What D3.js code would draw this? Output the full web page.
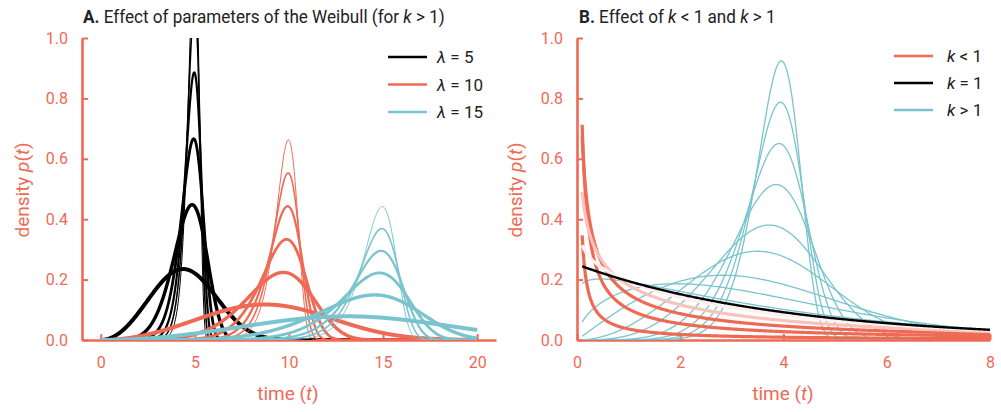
<!DOCTYPE html>
<html><head><meta charset="utf-8">
<script src="https://cdn.jsdelivr.net/npm/d3@7"></script>
<style>
body{margin:0;background:#fff;}
svg{display:block;font-family:Roboto,"Noto Sans",sans-serif;}
</style></head>
<body><svg id="c" width="1001" height="412"></svg>
<script>
// ---------- data (parameters) ----------
const lambdasA = [5, 10, 15];
const shapesA = [3, 6, 9, 12, 15, 18];
const lambdaB = 4;
const shapesBelow = [0.1, 0.3, 0.5, 0.7, 0.9];
const shapeOne = [1];
const shapesAbove = [1.1, 1.5, 2, 3, 4, 5.5, 7, 8.5, 10];
const xTicksA = [0, 5, 10, 15, 20];
const xTicksB = [0, 2, 4, 6, 8];
const yTicks = [0, 0.2, 0.4, 0.6, 0.8, 1.0];
const legendA = ["5", "10", "15"];
const legendB = ["<", "=", ">"];

// ---------- style ----------
const RED = "#EF6A55", TEAL = "#79C4CE", BLACK = "#000";
const lamColor = {5: BLACK, 10: RED, 15: TEAL};
const widthA = [4, 3.4, 2.8, 2.2, 1.6, 1.0];
const paleBelow = [0, 0, 0, 0.6, 0.9];

const weibull = (t, k, lam) => (k / lam) * Math.pow(t / lam, k - 1) * Math.exp(-Math.pow(t / lam, k));

const svg = d3.select("#c");
const y = d3.scaleLinear().domain([0, 1]).range([340, 38]);

function panel(x, xTicks, id) {
  const g = svg.append("g");
  const [x0, x1] = x.range();
  svg.append("clipPath").attr("id", id).append("rect")
    .attr("x", x0).attr("y", 38).attr("width", x1 - x0).attr("height", 302);
  const ya = g.append("g").attr("transform", `translate(${x0},0)`)
    .call(d3.axisLeft(y).tickValues(yTicks).tickFormat(d3.format(".1f")).tickSizeInner(-6).tickSizeOuter(0).tickPadding(14));
  const xa = g.append("g").attr("transform", `translate(0,340)`)
    .call(d3.axisBottom(x).tickValues(xTicks).tickFormat(d3.format("d")).tickSizeInner(-6).tickSizeOuter(0).tickPadding(17));
  [ya, xa].forEach(a => {
    a.select(".domain").attr("stroke", RED).attr("stroke-width", 2.6);
    a.selectAll(".tick line").attr("stroke", RED).attr("stroke-width", 2);
    a.selectAll(".tick text").attr("fill", RED).attr("font-size", 16).attr("font-family", "Roboto");
  });
  return g.append("g").attr("clip-path", `url(#${id})`);
}

// ---------- Panel A ----------
const xA = d3.scaleLinear().domain([-1, 21]).range([82, 496]);
const linesA = panel(xA, xTicksA, "clipA");
const tA = d3.range(0, 20.0001, 0.02);
lambdasA.forEach(lam => {
  shapesA.forEach((k, i) => {
    const line = d3.line().x(d => xA(d)).y(d => y(Math.min(weibull(d, k, lam), 1.2)));
    linesA.append("path").datum(tA).attr("d", line)
      .attr("fill", "none").attr("stroke", lamColor[lam]).attr("stroke-width", widthA[i])
      .attr("stroke-linejoin", "round");
  });
});

// ---------- Panel B ----------
const xB = d3.scaleLinear().domain([0, 8]).range([577, 990]);
const linesB = panel(xB, xTicksB, "clipB");
const tB = d3.range(0.1, 8.0001, 0.02);
const lineB = k => d3.line().x(d => xB(d)).y(d => y(Math.min(weibull(d, k, lambdaB), 1.2)));
shapesAbove.forEach(k => {
  linesB.append("path").datum(tB).attr("d", lineB(k))
    .attr("fill", "none").attr("stroke", TEAL).attr("stroke-width", 1.3);
});
shapesBelow.forEach((k, i) => {
  linesB.append("path").datum(tB).attr("d", lineB(k))
    .attr("fill", "none").attr("stroke", d3.interpolateRgb(RED, "#fff")(paleBelow[i])).attr("stroke-width", 3.2);
});
shapeOne.forEach(k => {
  linesB.append("path").datum(tB).attr("d", lineB(k))
    .attr("fill", "none").attr("stroke", BLACK).attr("stroke-width", 2.4);
});

// ---------- Titles ----------
function title(x, parts, sx) {
  const t = svg.append("text").attr("transform", `translate(${x},22.5) scale(${sx},1)`)
    .attr("font-size", 19).attr("fill", "#222");
  parts.forEach(p => t.append("tspan").text(p[0]).attr("font-weight", p[1] ? "bold" : null).attr("font-style", p[2] ? "italic" : null));
}
title(83, [["A.", 1], [" Effect of parameters of the Weibull (for "], ["k", 0, 1], [" > 1)"]], 0.9);
title(579, [["B.", 1], [" Effect of "], ["k", 0, 1], [" < 1 and "], ["k", 0, 1], [" > 1"]], 0.9);

// axis labels
function xlabel(cx) {
  const t = svg.append("text").attr("x", cx).attr("y", 400).attr("text-anchor", "middle").attr("font-size", 19).attr("fill", RED);
  t.append("tspan").text("time (");
  t.append("tspan").text("t").attr("font-style", "italic");
  t.append("tspan").text(")");
}
xlabel(288); xlabel(783);
function ylabel(bx) {
  const t = svg.append("text").attr("transform", `translate(${bx},190) rotate(-90)`).attr("text-anchor", "middle").attr("font-size", 19).attr("fill", RED);
  t.append("tspan").text("density ");
  t.append("tspan").text("p").attr("font-style", "italic");
  t.append("tspan").text("(");
  t.append("tspan").text("t").attr("font-style", "italic");
  t.append("tspan").text(")");
}
ylabel(29); ylabel(522);

// legends
const legColorsA = [BLACK, RED, TEAL];
legendA.forEach((v, i) => {
  const yy = 57 + i * 27.5;
  svg.append("line").attr("x1", 388).attr("x2", 427).attr("y1", yy).attr("y2", yy).attr("stroke", legColorsA[i]).attr("stroke-width", 2.6);
  const t = svg.append("text").attr("x", 437).attr("y", yy + 6).attr("font-size", 17).attr("fill", "#222");
  t.append("tspan").text("λ").attr("font-style", "italic");
  t.append("tspan").text(" = " + v);
});
const legColorsB = [RED, BLACK, TEAL];
legendB.forEach((v, i) => {
  const yy = 56 + i * 27;
  svg.append("line").attr("x1", 894).attr("x2", 933).attr("y1", yy).attr("y2", yy).attr("stroke", legColorsB[i]).attr("stroke-width", 2.6);
  const t = svg.append("text").attr("x", 947).attr("y", yy + 6).attr("font-size", 17).attr("fill", "#222");
  t.append("tspan").text("k").attr("font-style", "italic");
  t.append("tspan").text(" " + v + " 1");
});
</script></body></html>
